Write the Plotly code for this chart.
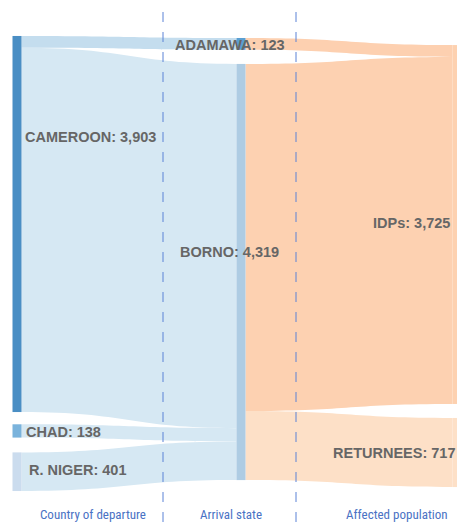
import plotly.graph_objects as go

# Nodes
node_names = ["CAMEROON", "CHAD", "R. NIGER", "ADAMAWA", "BORNO", "IDPs", "RETURNEES"]
node_totals = [3903, 138, 401, 123, 4319, 3725, 717]
node_colors = ["#4a8ec4", "#7ab3dc", "#cbdcee", "#5a9fd2", "#aecce3", "#fdd1b0", "#fde0c7"]

# Links (source -> target, value)
link_sources = [0, 0, 1, 2, 3, 4, 4]
link_targets = [3, 4, 4, 4, 5, 5, 6]
link_values = [123, 3780, 138, 401, 123, 3602, 717]
link_colors = ["rgba(196,221,238,1)", "rgba(214,232,243,1)", "rgba(214,232,243,1)",
               "rgba(214,232,243,1)", "rgba(253,208,176,1)", "rgba(253,209,177,1)",
               "rgba(253,224,199,1)"]

column_titles = ["Country of departure", "Arrival state", "Affected population"]

W, H = 457, 522


def fx(px):
    return px / W


def fy(py):
    return 1 - py / H


# layout positions (fractions of the sankey domain)
node_x = [fx(17), fx(17), fx(17), fx(241), fx(241), 1.0, 1.0]
node_y = [0.4132, 0.868, 0.9576, 0.0174, 0.5187, 0.4143, 0.9154]

fig = go.Figure(go.Sankey(
    arrangement="fixed",
    domain=dict(x=[0, 1], y=[fy(491), fy(36)]),
    node=dict(
        label=["" for _ in node_names],
        color=node_colors,
        thickness=9,
        pad=13.5,
        line=dict(width=0),
        x=node_x,
        y=node_y,
    ),
    link=dict(
        source=link_sources,
        target=link_targets,
        value=link_values,
        color=link_colors,
    ),
))

label_font = dict(family="Liberation Sans, Arial, sans-serif", size=14.5, color="#666666")
labels_pos = [
    (23, 137, "left"),
    (24, 432, "left"),
    (27, 470, "left"),
    (173, 45, "left"),
    (178, 252, "left"),
    (452, 223, "right"),
    (457, 453, "right"),
]
annotations = []
for name, total, (px, py, anchor) in zip(node_names, node_totals, labels_pos):
    annotations.append(dict(
        x=fx(px), y=fy(py), xref="paper", yref="paper",
        xanchor=anchor, yanchor="middle", showarrow=False,
        text=f"<b>{name}: {total:,}</b>", font=label_font,
    ))

for title, cx in zip(column_titles, [93, 231, 397]):
    annotations.append(dict(
        x=fx(cx), y=fy(514), xref="paper", yref="paper",
        xanchor="center", yanchor="middle", showarrow=False,
        text=title,
        font=dict(family="Liberation Sans Narrow, Roboto Condensed, Arial Narrow, sans-serif",
                  size=13, color="#4a72c4"),
    ))

shapes = []
for lx in [163, 296]:
    shapes.append(dict(
        type="line", xref="paper", yref="paper",
        x0=fx(lx), x1=fx(lx), y0=fy(12), y1=fy(522),
        line=dict(color="#5b82d6", width=1, dash="10px,10px"),
    ))

fig.update_layout(
    width=W, height=H,
    margin=dict(l=0, r=0, t=0, b=0),
    paper_bgcolor="white",
    plot_bgcolor="white",
    annotations=annotations,
    shapes=shapes,
)

fig.write_html(
    "out.html",
    config={"displayModeBar": False},
    post_script="document.body.style.margin='0';document.body.style.overflow='hidden';",
)
